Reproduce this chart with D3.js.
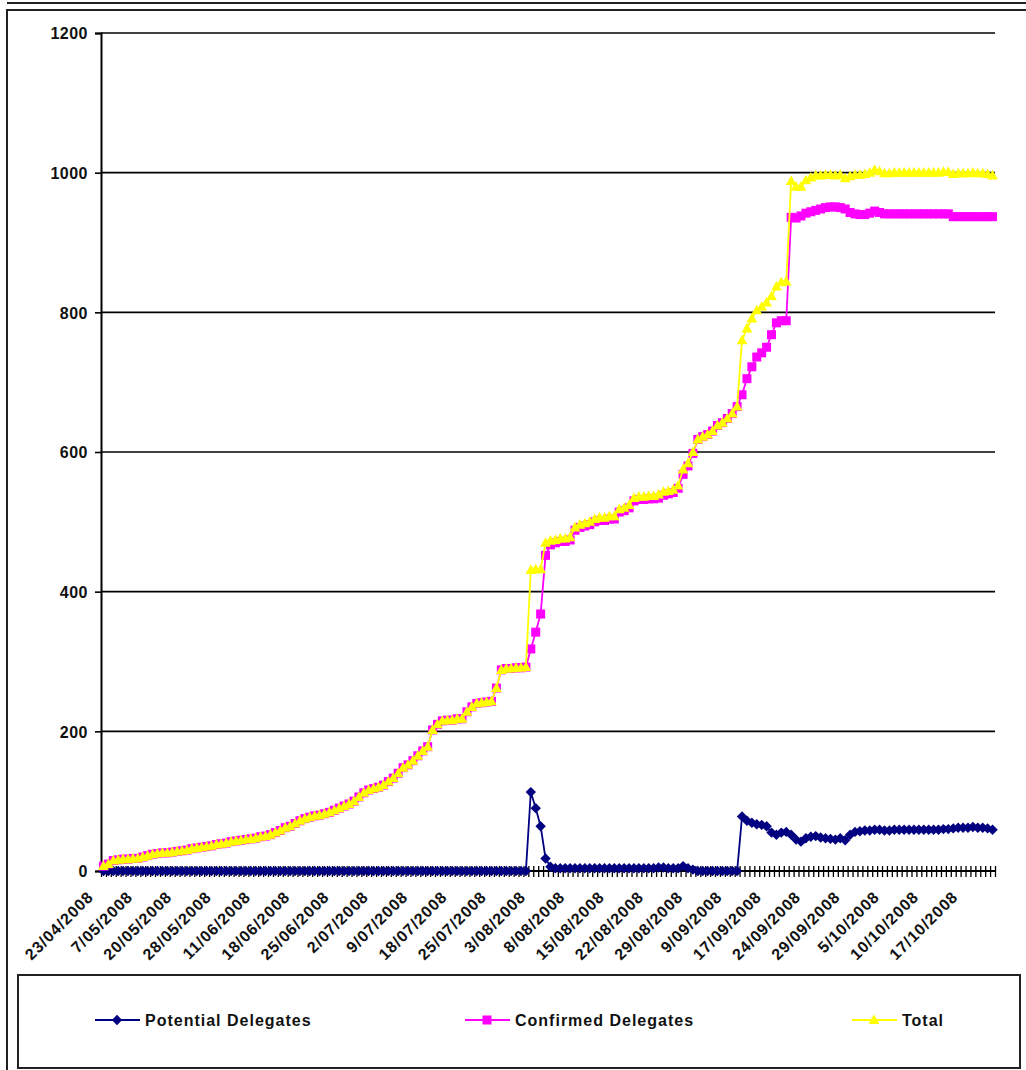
<!DOCTYPE html>
<html>
<head>
<meta charset="utf-8">
<script src="https://cdn.jsdelivr.net/npm/d3@7"></script>
<style>
html,body{margin:0;padding:0;background:#fff;}
svg{display:block;font-family:"Liberation Sans",Arial,sans-serif;}
.tick text{font-weight:bold;fill:#111;}
</style>
</head>
<body>
<svg id="chart" width="1026" height="1070"></svg>
<script>
// labels shown under every 8th category
const tickLabels = ['23/04/2008','7/05/2008','20/05/2008','28/05/2008','11/06/2008','18/06/2008',
  '25/06/2008','2/07/2008','9/07/2008','18/07/2008','25/07/2008','3/08/2008','8/08/2008',
  '15/08/2008','22/08/2008','29/08/2008','9/09/2008','17/09/2008','24/09/2008','29/09/2008',
  '5/10/2008','10/10/2008','17/10/2008'];
const labelEvery = 8;
const yTicks = [0,200,400,600,800,1000,1200];

const potential = [
  0,0,0,0,0,0,0,0,0,0,
  0,0,0,0,0,0,0,0,0,0,
  0,0,0,0,0,0,0,0,0,
  0,0,0,0,0,0,0,0,0,0,
  0,0,0,0,0,0,0,0,0,0,
  0,0,0,0,0,0,0,0,0,0,
  0,0,0,0,0,0,0,0,0,
  0,0,0,0,0,0,0,0,0,0,
  0,0,0,0,0,0,0,0,0,113,
  90,64,18,6,4,4,4,4,4,4,
  4,4,4,4,4,4,4,4,4,4,
  4,4,4,4,4,5,5,4,4,
  4,7,4,2,0,0,0,0,0,0,
  0,0,0,78,72,69,67,66,64,55,
  52,55,56,52,45,42,47,49,50,48,
  47,46,45,47,44,52,56,57,58,58,
  59,59,58,58,59,59,59,59,59,
  59,59,59,59,59,60,60,61,62,62,
  62,63,62,62,61,59];

const confirmed = [
  7,10,15,16,17,17,18,18,20,22,
  24,25,26,26,27,28,29,30,32,33,
  34,35,36,38,39,40,42,43,44,
  45,46,47,49,50,52,55,58,62,64,
  68,72,75,77,79,80,82,84,87,90,
  93,96,100,106,112,116,118,120,123,128,
  133,140,148,152,158,165,172,178,202,
  210,215,216,216,218,218,228,235,240,241,
  242,243,262,288,290,290,291,291,292,318,
  342,368,452,467,470,472,472,474,488,492,
  494,496,500,502,502,504,504,514,516,520,
  530,532,532,533,533,534,538,540,542,
  548,568,580,598,618,622,625,630,638,642,
  648,655,665,682,705,722,736,742,750,768,
  785,788,788,936,935,938,942,944,946,948,
  950,951,951,950,948,943,941,940,940,942,
  945,943,941,941,941,941,941,941,941,
  941,941,941,941,941,941,941,937,937,937,
  937,937,937,937,937,937];

const total = [
  7,10,15,16,17,17,18,18,20,22,
  24,25,26,26,27,28,29,30,32,33,
  34,35,36,38,39,40,42,43,44,
  45,46,47,49,50,52,55,58,62,64,
  68,72,75,77,79,80,82,84,87,90,
  93,96,100,106,112,116,118,120,123,128,
  133,140,148,152,158,165,172,178,202,
  210,215,216,216,218,218,228,235,240,241,
  242,243,262,288,290,290,291,291,292,431,
  432,432,470,473,474,476,476,478,492,496,
  498,500,504,506,506,508,508,518,520,524,
  534,536,536,537,537,539,543,544,546,
  552,575,584,600,618,622,625,630,638,642,
  648,655,665,760,777,791,803,808,814,823,
  837,843,844,988,980,980,989,993,996,996,
  997,997,996,997,992,995,997,997,998,1000,
  1004,1002,999,999,1000,1000,1000,1000,1000,
  1000,1000,1000,1000,1000,1001,1001,998,999,999,
  999,1000,999,999,998,996];

const MARKERS = {
  diamond:  'M0,-5.2L5.2,0L0,5.2L-5.2,0Z',
  square:   'M-4.5,-4.5H4.5V4.5H-4.5Z',
  triangle: 'M0,-5.6L5.4,4H-5.4Z'
};
const SERIES = [
  {name:'Potential Delegates', values:potential, color:'#000080', marker:'diamond',  lx:95},
  {name:'Confirmed Delegates', values:confirmed, color:'#ff00ff', marker:'square',   lx:465},
  {name:'Total',               values:total,     color:'#ffff00', marker:'triangle', lx:852}
];

const N = confirmed.length;
const L = 101, R = 995, T = 33, B = 871;
const svg = d3.select('#chart');

// page frame
svg.append('line').attr('x1',7).attr('x2',1026).attr('y1',3).attr('y2',3)
  .attr('stroke','#222').attr('stroke-width',2);
svg.append('rect').attr('x',7).attr('y',10).attr('width',1040).attr('height',1080)
  .attr('fill','none').attr('stroke','#222').attr('stroke-width',2);

const x = d3.scaleBand().domain(d3.range(N)).range([L,R]);
const xEdge = d3.scaleLinear().domain([0,N]).range([L,R]);
const y = d3.scaleLinear().domain([0,1200]).range([B,T]);
const cx = i => x(i) + x.bandwidth()/2;

// gridlines
svg.append('g').selectAll('line').data(yTicks.filter(v=>v>0)).join('line')
  .attr('x1',L).attr('x2',R).attr('y1',d=>y(d)).attr('y2',d=>y(d))
  .attr('stroke','#000').attr('stroke-width',1.6);

// y axis
const gy = svg.append('g').attr('transform',`translate(${L},0)`)
  .call(d3.axisLeft(y).tickValues(yTicks).tickSize(6).tickPadding(7).tickFormat(d3.format('d')));
gy.select('.domain').attr('stroke','#000').attr('stroke-width',2);
gy.selectAll('.tick line').attr('stroke','#000').attr('stroke-width',1.6);
gy.selectAll('.tick text').attr('font-size',16).attr('letter-spacing',0.5).attr('dy','0.36em');

// x axis: crossing tick marks at category edges
const gx = svg.append('g').attr('transform',`translate(0,${B})`)
  .call(d3.axisBottom(xEdge).tickValues(d3.range(N+1)).tickSize(6).tickFormat(''));
gx.select('.domain').remove();
gx.append('line').attr('x1',L).attr('x2',R).attr('stroke','#000').attr('stroke-width',2);
gx.selectAll('.tick line').attr('y1',-5).attr('stroke','#000').attr('stroke-width',1.3);

// x labels, rotated
const gl = svg.append('g').attr('transform',`translate(0,${B})`)
  .call(d3.axisBottom(x).tickValues(d3.range(0,N,labelEvery)).tickSize(0)
    .tickFormat(i=>tickLabels[i/labelEvery]));
gl.select('.domain').remove();
gl.selectAll('.tick text')
  .attr('x',0).attr('y',0).attr('dy',0)
  .attr('font-size',16).attr('letter-spacing',0.9)
  .attr('text-anchor','end')
  .attr('transform','translate(-9,27) rotate(-45)');

// series
const line = d3.line().x((d,i)=>cx(i)).y(d=>y(d));
SERIES.forEach(s=>{
  const g = svg.append('g');
  g.append('path').datum(s.values).attr('d',line)
    .attr('fill','none').attr('stroke',s.color).attr('stroke-width',1.8);
  g.selectAll('path.m').data(s.values).join('path').attr('class','m')
    .attr('d',MARKERS[s.marker])
    .attr('transform',(d,i)=>`translate(${cx(i)},${y(d)})`)
    .attr('fill',s.color);
});

// legend
svg.append('rect').attr('x',18).attr('y',975).attr('width',1002).attr('height',93)
  .attr('fill','#fff').attr('stroke','#222').attr('stroke-width',2);
const lg = svg.append('g').selectAll('g').data(SERIES).join('g')
  .attr('transform',d=>`translate(${d.lx},1020)`);
lg.append('line').attr('x1',0).attr('x2',45).attr('stroke',d=>d.color).attr('stroke-width',2);
lg.append('path').attr('d',d=>MARKERS[d.marker]).attr('transform','translate(22,0)')
  .attr('fill',d=>d.color);
lg.append('text').attr('x',50).attr('y',6).text(d=>d.name)
  .attr('font-size',16).attr('font-weight','bold').attr('letter-spacing',1).attr('fill','#111');
</script>
</body>
</html>
